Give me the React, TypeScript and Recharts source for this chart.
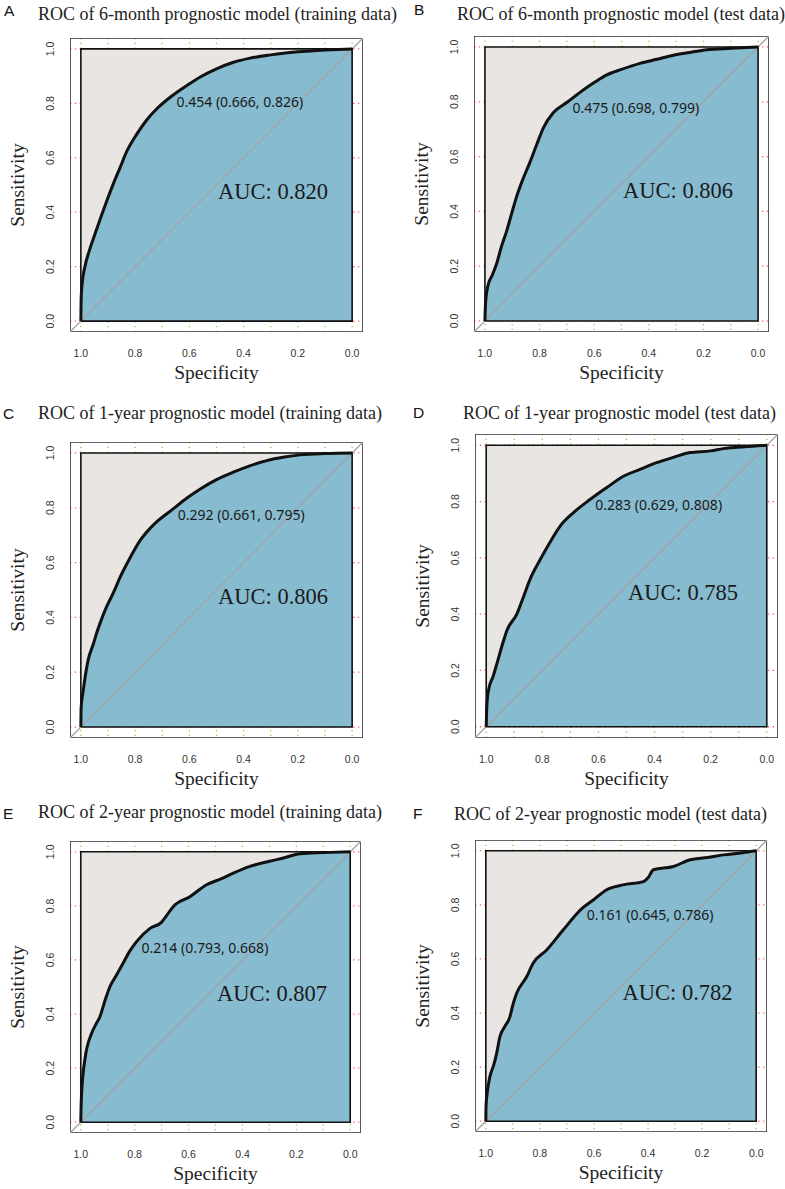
import React from 'react';
import { ComposedChart, Area, Line, XAxis, YAxis, CartesianGrid, ReferenceDot } from 'recharts';

// ---- data: ROC curves (specificity, sensitivity) ----
const rocA = [[1,0],[0.999,0.08],[0.996,0.13],[0.985,0.2],[0.97,0.255],[0.948,0.32],[0.925,0.385],[0.905,0.44],[0.88,0.505],[0.855,0.565],[0.83,0.625],[0.795,0.685],[0.758,0.738],[0.72,0.78],[0.666,0.826],[0.61,0.865],[0.56,0.897],[0.5,0.927],[0.44,0.95],[0.376,0.966],[0.3,0.978],[0.253,0.984],[0.13,0.994],[0.05,0.998],[0,1]];
const rocB = [[1,0],[0.998,0.06],[0.99,0.125],[0.972,0.17],[0.957,0.21],[0.94,0.27],[0.92,0.33],[0.9,0.4],[0.884,0.454],[0.86,0.52],[0.835,0.58],[0.81,0.645],[0.786,0.705],[0.75,0.76],[0.698,0.799],[0.64,0.843],[0.6,0.87],[0.554,0.898],[0.5,0.918],[0.432,0.94],[0.37,0.955],[0.31,0.97],[0.25,0.98],[0.188,0.99],[0.1,0.995],[0,1]];
const rocC = [[1,0],[0.999,0.07],[0.991,0.135],[0.973,0.245],[0.955,0.3],[0.942,0.342],[0.925,0.39],[0.905,0.439],[0.88,0.49],[0.856,0.545],[0.82,0.615],[0.782,0.68],[0.73,0.74],[0.661,0.795],[0.61,0.835],[0.561,0.868],[0.5,0.903],[0.438,0.93],[0.38,0.952],[0.315,0.972],[0.25,0.985],[0.192,0.993],[0.1,0.998],[0,1]];
const rocD = [[1,0],[0.998,0.07],[0.992,0.129],[0.975,0.18],[0.962,0.224],[0.94,0.3],[0.926,0.343],[0.891,0.4],[0.867,0.462],[0.845,0.521],[0.808,0.593],[0.77,0.66],[0.737,0.712],[0.69,0.76],[0.629,0.808],[0.57,0.85],[0.511,0.89],[0.45,0.915],[0.393,0.938],[0.33,0.958],[0.274,0.974],[0.2,0.98],[0.155,0.988],[0.08,0.995],[0,1]];
const rocE = [[1,0],[0.999,0.05],[0.997,0.106],[0.985,0.23],[0.96,0.328],[0.945,0.36],[0.929,0.39],[0.91,0.45],[0.892,0.501],[0.87,0.54],[0.843,0.588],[0.82,0.63],[0.793,0.668],[0.743,0.717],[0.7,0.74],[0.681,0.765],[0.657,0.797],[0.595,0.834],[0.533,0.878],[0.48,0.9],[0.434,0.921],[0.372,0.946],[0.3,0.965],[0.248,0.977],[0.186,0.993],[0.1,0.997],[0,1]];
const rocF = [[1,0],[0.999,0.06],[0.995,0.103],[0.985,0.164],[0.97,0.21],[0.96,0.251],[0.948,0.312],[0.93,0.35],[0.911,0.386],[0.9,0.43],[0.886,0.473],[0.849,0.534],[0.825,0.584],[0.775,0.633],[0.714,0.707],[0.645,0.786],[0.6,0.82],[0.553,0.856],[0.492,0.874],[0.417,0.886],[0.4,0.9],[0.38,0.93],[0.306,0.942],[0.244,0.967],[0.18,0.975],[0.121,0.985],[0.05,0.993],[0,1]];

const panelLetters = ['A', 'B', 'C', 'D', 'E', 'F'];
const panelTitles = [
  'ROC of 6-month prognostic model (training data)',
  'ROC of 6-month prognostic model (test data)',
  'ROC of 1-year prognostic model (training data)',
  'ROC of 1-year prognostic model (test data)',
  'ROC of 2-year prognostic model (training data)',
  'ROC of 2-year prognostic model (test data)',
];
const aucValues = [0.820, 0.806, 0.806, 0.785, 0.807, 0.782];
const thrCutoff = [0.454, 0.475, 0.292, 0.283, 0.214, 0.161];
const thrSpec = [0.666, 0.698, 0.661, 0.629, 0.793, 0.645];
const thrSens = [0.826, 0.799, 0.795, 0.808, 0.668, 0.786];

const specTicks = [0, 0.2, 0.4, 0.6, 0.8, 1.0];
const sensTicks = [0, 0.2, 0.4, 0.6, 0.8, 1.0];
const specGrid = [0, 0.1, 0.2, 0.3, 0.4, 0.5, 0.6, 0.7, 0.8, 0.9, 1.0];

// unit square (ROC space) and the extended plot region (R's 4% padding)
const unitSquare = [[1,0],[1,1],[0,1],[0,0],[1,0]];
const plotRegion = [[1.04,-0.04],[1.04,1.04],[-0.04,1.04],[-0.04,-0.04],[1.04,-0.04]];
const chanceLine = [[1.04,-0.04],[-0.04,1.04]];
const topEdge = [[1,1],[0,1]];

const toPts = (arr: number[][]) => arr.map(([x, y]) => ({ x, y }));
const rocs = [rocA, rocB, rocC, rocD, rocE, rocF];

// ---- layout (page pixels) ----
const layout = [
  { L: 70, T: 38, W: 293, H: 294, titleX: 38, titleY: 20, letterX: 4, letterY: 16 },
  { L: 474, T: 36, W: 295, H: 296, titleX: 457, titleY: 20, letterX: 414, letterY: 15 },
  { L: 70, T: 442, W: 293, H: 296, titleX: 38, titleY: 419, letterX: 3, letterY: 419 },
  { L: 475, T: 434, W: 303, H: 304, titleX: 463, titleY: 419, letterX: 413, letterY: 418 },
  { L: 70, T: 841, W: 291, H: 292, titleX: 38, titleY: 818, letterX: 3, letterY: 819 },
  { L: 475, T: 840, W: 292, H: 292, titleX: 454, titleY: 820, letterX: 413, letterY: 819 },
];

const SERIF = '"Liberation Serif", "Times New Roman", serif';
const SANS = '"Liberation Sans", Arial, sans-serif';
const ANNOT = '"Noto Sans", "Open Sans", sans-serif';

const GREY_FILL = '#e8e5e3';
const BLUE_FILL = '#87bbcf';

const XTick = (p: any) => (
  <text x={p.x} y={p.y + 21} textAnchor="middle" dominantBaseline="central" fontSize={10.5} fill="#333" fontFamily={SANS}>
    {Number(p.payload.value).toFixed(1)}
  </text>
);

const YTick = (p: any) => {
  const cx = p.x - 20;
  return (
    <text x={cx} y={p.y} transform={`rotate(-90 ${cx} ${p.y})`} textAnchor="middle" dominantBaseline="central" fontSize={10.5} fill="#333" fontFamily={SANS}>
      {Number(p.payload.value).toFixed(1)}
    </text>
  );
};

const XLabel = (p: any) => {
  const vb = p.viewBox || {};
  return (
    <text x={vb.x + vb.width / 2} y={vb.y + 47} textAnchor="middle" fontSize={19.5} fill="#222" fontFamily={SERIF}>
      Specificity
    </text>
  );
};

const YLabel = (p: any) => {
  const vb = p.viewBox || {};
  const cx = vb.x + vb.width - 46;
  const cy = vb.y + vb.height / 2;
  return (
    <text x={cx} y={cy} transform={`rotate(-90 ${cx} ${cy})`} textAnchor="middle" fontSize={19.5} fill="#222" fontFamily={SERIF}>
      Sensitivity
    </text>
  );
};

function RocPanel({ idx }: { idx: number }) {
  const box = layout[idx];
  const ML = 70, MT = 40, MR = 24, MB = 64, YW = 30, XH = 30;
  const w = box.W + ML + MR;
  const h = box.H + MT + MB;
  const rocData = toPts(rocs[idx]);
  const thrText = `${thrCutoff[idx].toFixed(3)} (${thrSpec[idx].toFixed(3)}, ${thrSens[idx].toFixed(3)})`;
  const aucText = `AUC: ${aucValues[idx].toFixed(3)}`;
  return (
    <div style={{ position: 'absolute', left: box.L - ML, top: box.T - MT, width: w, height: h }}>
      <ComposedChart width={w} height={h} margin={{ top: MT, right: MR, bottom: MB - XH, left: ML - YW }}>
        <CartesianGrid horizontal={true} vertical={false} horizontalValues={sensTicks} stroke="#ff5c5c" strokeDasharray="1.3 3.5" strokeWidth={1.3} />
        <CartesianGrid horizontal={false} vertical={true} verticalValues={specGrid} stroke="#92cf3c" strokeDasharray="1.3 3.5" strokeWidth={1.3} />
        <XAxis
          type="number"
          dataKey="x"
          domain={[-0.04, 1.04]}
          reversed
          ticks={specTicks}
          interval={0}
          tickSize={0}
          tickMargin={0}
          tickLine={false}
          axisLine={false}
          height={XH}
          tick={XTick}
          allowDataOverflow
          label={{ content: XLabel }}
        />
        <YAxis
          type="number"
          dataKey="y"
          domain={[-0.04, 1.04]}
          ticks={sensTicks}
          interval={0}
          tickSize={0}
          tickMargin={0}
          tickLine={false}
          axisLine={false}
          width={YW}
          tick={YTick}
          allowDataOverflow
          label={{ content: YLabel }}
        />
        <Area data={toPts(topEdge)} dataKey="y" type="linear" baseValue={0} fill={GREY_FILL} fillOpacity={1} stroke="none" isAnimationActive={false} dot={false} activeDot={false} />
        <Area data={rocData} dataKey="y" type="monotoneX" baseValue={0} fill={BLUE_FILL} fillOpacity={1} stroke="none" isAnimationActive={false} dot={false} activeDot={false} />
        <Line data={toPts(plotRegion)} dataKey="y" type="linear" stroke="#333" strokeWidth={1.6} dot={false} activeDot={false} isAnimationActive={false} />
        <Line data={toPts(chanceLine)} dataKey="y" type="linear" stroke="#a3a3a3" strokeWidth={1.3} dot={false} activeDot={false} isAnimationActive={false} />
        <Line data={toPts(unitSquare)} dataKey="y" type="linear" stroke="#111" strokeWidth={1.6} dot={false} activeDot={false} isAnimationActive={false} />
        <Line data={rocData} dataKey="y" type="monotoneX" stroke="#111" strokeWidth={3} strokeLinejoin="round" dot={false} activeDot={false} isAnimationActive={false} />
        <ReferenceDot
          x={thrSpec[idx]}
          y={thrSens[idx]}
          r={0}
          fill="none"
          stroke="none"
          label={{
            content: (p: any) => (
              <text x={p.viewBox.x + 5} y={p.viewBox.y + 11} fontSize={14} fill="#1a1a1a" fontFamily={ANNOT}>
                {thrText}
              </text>
            ),
          }}
        />
        <ReferenceDot
          x={0.5}
          y={0.5}
          r={0}
          fill="none"
          stroke="none"
          label={{
            content: (p: any) => (
              <text x={p.viewBox.x + 1.5} y={p.viewBox.y + 14} fontSize={22.5} fill="#1a1a1a" fontFamily={SERIF}>
                {aucText}
              </text>
            ),
          }}
        />
      </ComposedChart>
    </div>
  );
}

export default function App() {
  return (
    <div style={{ position: 'absolute', left: 0, top: 0, width: 785, height: 1189, background: '#fff', overflow: 'hidden' }}>
      <svg width={785} height={1189} style={{ position: 'absolute', left: 0, top: 0 }}>
        {layout.map((b, i) => (
          <g key={i}>
            <text x={b.letterX} y={b.letterY} fontSize={15.5} fill="#111" fontFamily={SANS}>{panelLetters[i]}</text>
            <text x={b.titleX} y={b.titleY} fontSize={18} fill="#222" fontFamily={SERIF}>{panelTitles[i]}</text>
          </g>
        ))}
      </svg>
      {layout.map((_, i) => (
        <RocPanel key={i} idx={i} />
      ))}
    </div>
  );
}
